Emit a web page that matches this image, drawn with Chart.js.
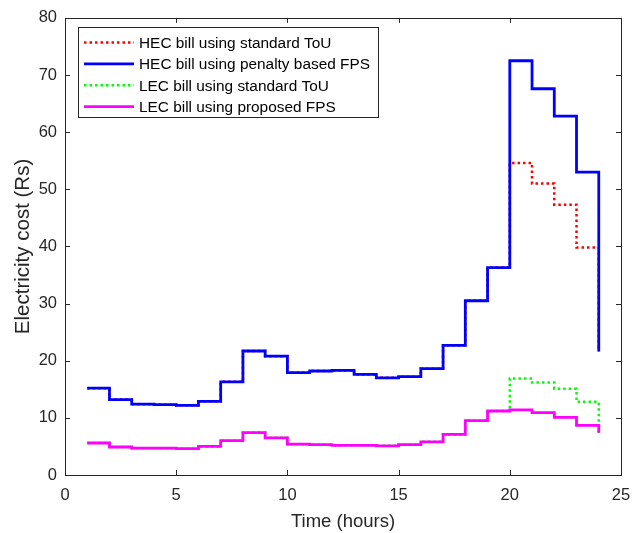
<!DOCTYPE html>
<html>
<head>
<meta charset="utf-8">
<script src="https://cdn.jsdelivr.net/npm/chart.js@4"></script>
<style>
  html, body { margin: 0; padding: 0; background: #fff; }
  #wrap { width: 644px; height: 533px; }
</style>
</head>
<body>
<div id="wrap"><canvas id="billChart" width="644" height="533"></canvas></div>
<script>
const hours = [1, 2, 3, 4, 5, 6, 7, 8, 9, 10, 11, 12, 13, 14, 15, 16, 17, 18, 19, 20, 21, 22, 23, 24];
const hecTou = [15.2, 13.2, 12.4, 12.3, 12.2, 12.9, 16.3, 21.7, 20.8, 17.9, 18.2, 18.3, 17.6, 17.0, 17.2, 18.6, 22.7, 30.5, 36.3, 54.6, 51.0, 47.3, 39.8, 21.6];
const hecFps = [15.2, 13.2, 12.4, 12.3, 12.2, 12.9, 16.3, 21.7, 20.8, 17.9, 18.2, 18.3, 17.6, 17.0, 17.2, 18.6, 22.7, 30.5, 36.3, 72.5, 67.6, 62.8, 53.0, 21.6];
const lecTou = [5.6, 4.9, 4.7, 4.7, 4.6, 5.0, 6.0, 7.4, 6.5, 5.4, 5.3, 5.2, 5.2, 5.1, 5.3, 5.8, 7.1, 9.5, 11.2, 16.9, 16.2, 15.1, 12.8, 7.4];
const lecFps = [5.6, 4.9, 4.7, 4.7, 4.6, 5.0, 6.0, 7.4, 6.5, 5.4, 5.3, 5.2, 5.2, 5.1, 5.3, 5.8, 7.1, 9.5, 11.2, 11.4, 10.9, 10.1, 8.7, 7.4];
const xTicks = [0, 5, 10, 15, 20, 25];
const yTicks = [0, 10, 20, 30, 40, 50, 60, 70, 80];

const FONT = "'Liberation Sans', Arial, Helvetica, sans-serif";
const INK = '#262626';

function points(values) {
    return hours.map((h, i) => ({ x: h, y: values[i] }));
}

// box around the axes with short inward ticks on all four sides, plus legend inside the plot
const matlabAxes = {
    id: 'matlabAxes',
    afterDraw(chart) {
        const ctx = chart.ctx;
        const a = chart.chartArea;
        const xs = chart.scales.x, ys = chart.scales.y;
        const len = 5;
        ctx.save();
        ctx.strokeStyle = INK;
        ctx.lineWidth = 1;
        ctx.beginPath();
        xTicks.forEach(v => {
            const px = Math.round(xs.getPixelForValue(v)) + 0.5;
            ctx.moveTo(px, a.bottom); ctx.lineTo(px, a.bottom - len);
            ctx.moveTo(px, a.top); ctx.lineTo(px, a.top + len);
        });
        yTicks.forEach(v => {
            const py = Math.round(ys.getPixelForValue(v)) + 0.5;
            ctx.moveTo(a.left, py); ctx.lineTo(a.left + len, py);
            ctx.moveTo(a.right, py); ctx.lineTo(a.right - len, py);
        });
        ctx.stroke();
        ctx.strokeRect(Math.round(a.left) + 0.5, Math.round(a.top) + 0.5,
            Math.round(a.right - a.left), Math.round(a.bottom - a.top));

        // legend
        const box = { x: 78.5, y: 27.5, w: 300, h: 90 };
        ctx.fillStyle = '#fff';
        ctx.fillRect(box.x, box.y, box.w, box.h);
        ctx.strokeRect(box.x, box.y, box.w, box.h);
        ctx.font = '15.4px ' + FONT;
        ctx.textBaseline = 'middle';
        chart.data.datasets.forEach((ds, i) => {
            const y = 42.5 + i * 21.4;
            ctx.strokeStyle = ds.borderColor;
            ctx.lineWidth = ds.borderWidth;
            ctx.setLineDash(ds.borderDash || []);
            ctx.beginPath();
            ctx.moveTo(84, y); ctx.lineTo(134, y);
            ctx.stroke();
            ctx.setLineDash([]);
            ctx.fillStyle = '#000';
            ctx.fillText(ds.label, 139, y + 1);
        });
        ctx.restore();
    }
};

const ctx = document.getElementById('billChart').getContext('2d');
const billChart = new Chart(ctx, {
    type: 'line',
    data: {
        datasets: [{
            label: 'HEC bill using standard ToU',
            data: points(hecTou),
            borderColor: '#ff0000',
            borderWidth: 2.5,
            borderDash: [2.5, 3],
            order: 2
        }, {
            label: 'HEC bill using penalty based FPS',
            data: points(hecFps),
            borderColor: '#0000ff',
            borderWidth: 2.8,
            order: 1
        }, {
            label: 'LEC bill using standard ToU',
            data: points(lecTou),
            borderColor: '#00ff00',
            borderWidth: 2.5,
            borderDash: [2.5, 3],
            order: 2
        }, {
            label: 'LEC bill using proposed FPS',
            data: points(lecFps),
            borderColor: '#ff00ff',
            borderWidth: 2.8,
            order: 1
        }]
    },
    options: {
        responsive: false,
        animation: false,
        events: [],
        layout: { padding: { top: 14, right: 23, left: 0, bottom: 0 } },
        elements: {
            line: { stepped: 'before', tension: 0, fill: false, borderJoinStyle: 'miter' },
            point: { radius: 0 }
        },
        plugins: {
            legend: { display: false },
            tooltip: { enabled: false }
        },
        scales: {
            x: {
                type: 'linear',
                min: 0,
                max: 25,
                afterFit(scale) { scale.height = 58; },
                afterBuildTicks(scale) { scale.ticks = xTicks.map(v => ({ value: v })); },
                grid: { display: false, drawTicks: false },
                border: { display: false },
                ticks: { padding: 11, color: INK, font: { family: FONT, size: 16.5 } },
                title: {
                    display: true,
                    text: 'Time (hours)',
                    color: INK,
                    padding: { top: 0, bottom: 0 },
                    font: { family: FONT, size: 18.5 }
                }
            },
            y: {
                min: 0,
                max: 80,
                afterFit(scale) { scale.width = 65; },
                afterBuildTicks(scale) { scale.ticks = yTicks.map(v => ({ value: v })); },
                grid: { display: false, drawTicks: false },
                border: { display: false },
                ticks: { padding: 8, color: INK, font: { family: FONT, size: 16.5 } },
                title: {
                    display: true,
                    text: 'Electricity cost (Rs)',
                    color: INK,
                    padding: { top: 11.5, bottom: 0 },
                    font: { family: FONT, size: 20.5 }
                }
            }
        }
    },
    plugins: [matlabAxes]
});
</script>
</body>
</html>
